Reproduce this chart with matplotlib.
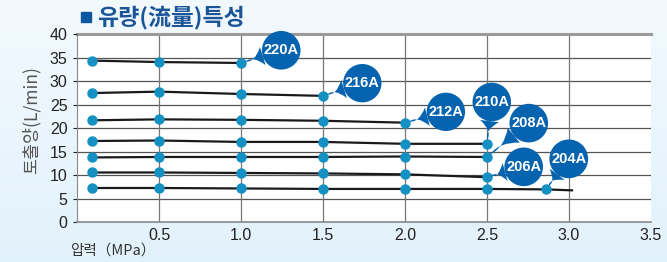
import matplotlib
matplotlib.use('Agg')
import matplotlib.pyplot as plt
import matplotlib.patches as mpatches
import numpy as np

plt.rcParams['font.family'] = ['Liberation Sans', 'Noto Sans CJK KR', 'DejaVu Sans']

# pressure (MPa) and flow (L/min) for each pump model
x_220 = [0.09, 0.5, 1.0]
y_220 = [34.4, 34.1, 33.9]
x_216 = [0.09, 0.5, 1.0, 1.5]
y_216 = [27.5, 27.8, 27.3, 26.9]
x_212 = [0.09, 0.5, 1.0, 1.5, 2.0]
y_212 = [21.7, 21.9, 21.8, 21.6, 21.2]
x_210 = [0.09, 0.5, 1.0, 1.5, 2.0, 2.5]
y_210 = [17.3, 17.4, 17.1, 17.1, 16.7, 16.7]
x_208 = [0.09, 0.5, 1.0, 1.5, 2.0, 2.5]
y_208 = [13.8, 13.9, 13.9, 13.9, 14.0, 13.9]
x_206 = [0.09, 0.5, 1.0, 1.5, 2.0, 2.5]
y_206 = [10.6, 10.6, 10.5, 10.4, 10.2, 9.6]
x_204 = [0.09, 0.5, 1.0, 1.5, 2.0, 2.5, 2.86]
y_204 = [7.3, 7.3, 7.2, 7.1, 7.1, 7.1, 7.0]
line_end_204 = (3.02, 6.8)  # line runs past the last marker

series = [
    ('220A', x_220, y_220),
    ('216A', x_216, y_216),
    ('212A', x_212, y_212),
    ('210A', x_210, y_210),
    ('208A', x_208, y_208),
    ('206A', x_206, y_206),
    ('204A', x_204, y_204),
]

# where each callout bubble sits (data coords)
label_pos = {
    '220A': (1.245, 36.6),
    '216A': (1.74, 29.6),
    '212A': (2.25, 23.5),
    '210A': (2.53, 25.6),
    '208A': (2.756, 21.1),
    '206A': (2.725, 11.8),
    '204A': (3.0, 13.5),
}

x_ticks = [0.5, 1.0, 1.5, 2.0, 2.5, 3.0, 3.5]
y_ticks = [0, 5, 10, 15, 20, 25, 30, 35, 40]

bubble = '#0563b0'
dot = '#1590c3'

fig = plt.figure(figsize=(6.67, 2.62), dpi=100)

# light blue background, fading toward the bottom
g = np.linspace(0, 1, 262).reshape(-1, 1)
bg = np.dstack([0.885 + 0.065 * g, 0.948 + 0.03 * g, 0.985 + 0.01 * g, np.ones_like(g)])
fig.figimage(np.repeat(bg, 667, axis=1)[::-1], zorder=-10)

ax = fig.add_axes([77.2 / 667, 1 - 222.3 / 262, (650.7 - 77.2) / 667, (222.3 - 34.3) / 262])
ax.set_facecolor('white')
ax.set_xlim(0, 3.5)
ax.set_ylim(0, 40)

for v in y_ticks[1:-1]:
    ax.axhline(v, color='#555555', lw=0.9, zorder=1)
for v in x_ticks[:-1]:
    ax.axvline(v, color='#777777', lw=0.9, zorder=1)
ax.axhline(40, color='#9a9a9a', lw=2.2, zorder=1, clip_on=False)

for s in ['top', 'right']:
    ax.spines[s].set_visible(False)
ax.spines['left'].set_color('#888888')
ax.spines['bottom'].set_color('#888888')
ax.spines['bottom'].set_linewidth(1.2)

ax.set_xticks(x_ticks)
ax.set_xticklabels(['%.1f' % t for t in x_ticks])
ax.set_yticks(y_ticks)
ax.tick_params(axis='x', length=0, pad=4, labelsize=11.5, colors='#222222')
ax.tick_params(axis='y', length=3, pad=4, labelsize=11.5, colors='#222222')
for t in ax.get_yticklines():
    t.set_color('#666666')

for name, xs, ys in series:
    lx, ly = list(xs), list(ys)
    if name == '204A':
        lx.append(line_end_204[0])
        ly.append(line_end_204[1])
    ax.plot(lx, ly, color='#1a1a1a', lw=1.6, zorder=3)
    ax.plot(xs, ys, 'o', color=dot, ms=6.5, zorder=4)

for name, xs, ys in series:
    ax.annotate(name, xy=(xs[-1], ys[-1]), xytext=label_pos[name],
                ha='center', va='center', color='white', fontsize=10.5,
                fontweight='bold', zorder=6,
                bbox=dict(boxstyle='circle,pad=0.12', fc=bubble, ec='none'),
                arrowprops=dict(arrowstyle='wedge,tail_width=1.3,shrink_factor=0.05',
                                fc=bubble, ec='none', shrinkA=0, shrinkB=3))

fig.patches.append(mpatches.Rectangle((81 / 667, 1 - 22 / 262), 10 / 667, 10 / 262,
                                      transform=fig.transFigure, color='#0d56a0'))
fig.text(97 / 667, 1 - 18 / 262, '유량(流量)특성', color='#1a5598', fontsize=16.5,
         fontweight='bold', va='center', ha='left',
         family=['Noto Sans CJK KR', 'DejaVu Sans'])
fig.text(31 / 667, 1 - 120 / 262, '토출양(L/min)', color='#555555', fontsize=12.5,
         rotation=90, va='center', ha='center',
         family=['Noto Sans CJK KR', 'DejaVu Sans'])
fig.text(70 / 667, 1 - 251 / 262, '압력（MPa）', color='#333333', fontsize=10.5,
         va='center', ha='left', family=['Noto Sans CJK KR', 'DejaVu Sans'])

fig.savefig('out.png', dpi=100)
